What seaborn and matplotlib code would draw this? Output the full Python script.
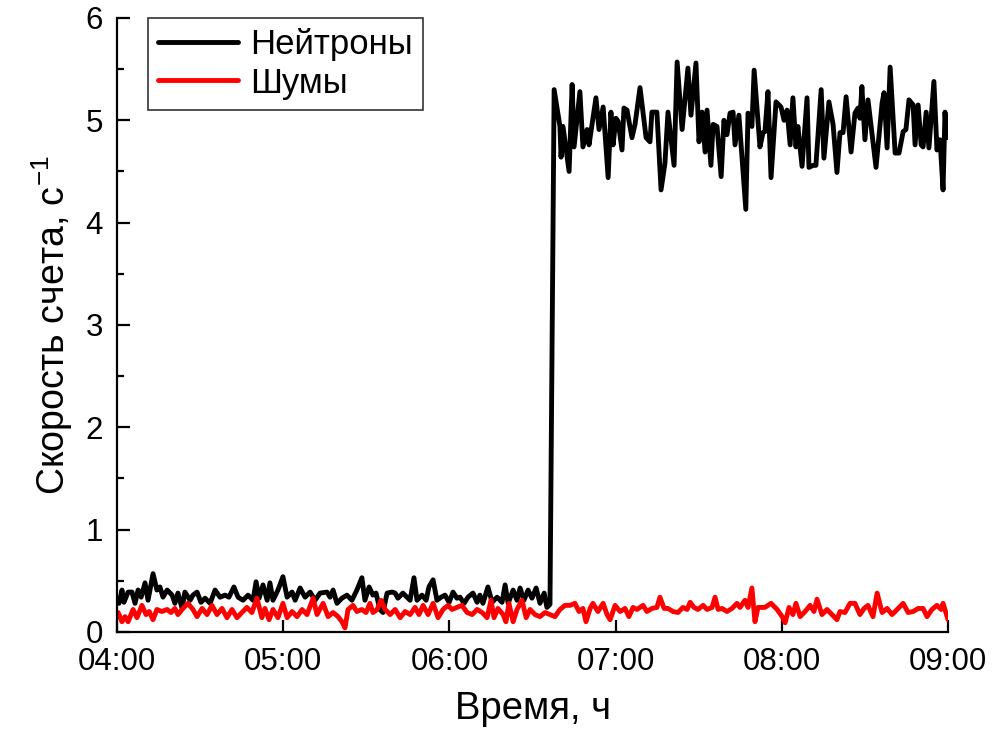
import matplotlib
matplotlib.use("Agg")
import matplotlib.pyplot as plt
import seaborn as sns
import pandas as pd
import numpy as np

# minutes after 04:00 and count rate (1/s)
neutron_min = [
    0.7, 1.8, 2.5, 4.0, 5.4, 6.5, 7.6, 8.7, 10.1, 11.2, 13.0, 14.4, 15.5, 16.6, 18.1,
    19.9, 20.9, 22.0, 23.5, 24.5, 26.4, 27.4, 28.9, 30.3, 31.8, 33.6, 35.4, 37.2, 39.0,
    40.4, 42.2, 43.7, 45.5, 47.3, 49.1, 50.2, 51.3, 52.7, 54.2, 55.2, 56.3, 58.1, 59.9,
    61.4, 63.2, 64.3, 66.1, 67.9, 69.7, 71.5, 73.3, 75.8, 76.9, 78.0, 79.4, 81.2, 83.0,
    84.8, 86.6, 88.4, 89.5, 91.0, 92.4, 93.5, 94.9, 96.0, 97.5, 99.3, 100.4, 101.4,
    103.2, 104.7, 105.8, 107.2, 108.3, 110.1, 111.6, 112.6, 114.1, 115.5, 117.0, 118.4,
    119.9, 121.3, 122.7, 123.8, 125.3, 126.7, 128.5, 130.0, 131.0, 132.1, 133.9, 135.4,
    137.2, 139.0, 140.1, 141.2, 143.0, 144.4, 145.5, 146.9, 148.4, 149.8, 151.3, 152.7,
    154.2, 155.2, 156.3,
    157.8, 159.9, 160.3, 161.0, 163.2, 164.3, 165.0, 167.1, 168.2, 169.7, 170.4, 172.9,
    174.0, 175.5, 177.3, 178.3, 179.1, 180.1, 180.9, 182.3, 183.0, 184.1, 185.9, 187.0,
    188.8, 191.0, 192.4, 193.1, 194.9, 196.4, 197.8, 198.9, 201.1, 202.2, 204.0, 206.1,
    207.2, 209.0, 210.1, 211.2, 212.3, 213.0, 214.4, 215.2, 216.6, 218.1, 219.1, 220.2,
    221.3, 222.4, 223.1, 224.5, 227.0, 227.8, 229.2, 230.0, 232.1, 233.2, 233.9, 235.0,
    236.1, 237.9, 239.7, 240.8, 241.9, 243.0, 244.0, 245.1, 245.8, 247.3, 249.1, 249.8,
    251.3, 252.3, 254.2, 255.2, 257.0, 258.5, 259.9, 261.0, 262.1, 263.2, 265.0, 266.4,
    267.5, 268.2, 268.9, 270.0, 271.1, 274.0, 276.2, 276.9, 278.0, 279.1, 280.9, 282.3,
    283.8, 284.8, 285.9, 287.4, 288.1, 289.2, 290.3, 291.0, 292.1, 293.1, 294.9, 296.0,
    297.1, 298.2, 298.9, 299.6,
]
neutron_rate = [
    0.28, 0.41, 0.29, 0.39, 0.39, 0.28, 0.41, 0.34, 0.48, 0.31, 0.57, 0.41, 0.44, 0.34, 0.41,
    0.36, 0.28, 0.38, 0.23, 0.39, 0.31, 0.36, 0.39, 0.29, 0.33, 0.28, 0.41, 0.34, 0.36,
    0.34, 0.44, 0.34, 0.31, 0.36, 0.31, 0.49, 0.33, 0.46, 0.31, 0.48, 0.31, 0.41, 0.54,
    0.34, 0.39, 0.31, 0.43, 0.34, 0.39, 0.31, 0.38, 0.39, 0.34, 0.41, 0.28, 0.33, 0.36,
    0.31, 0.41, 0.53, 0.31, 0.44, 0.36, 0.38, 0.22, 0.19, 0.38, 0.39, 0.38, 0.33,
    0.38, 0.34, 0.31, 0.53, 0.31, 0.36, 0.31, 0.44, 0.51, 0.31, 0.34, 0.36,
    0.29, 0.39, 0.33, 0.34, 0.28, 0.34, 0.38, 0.29, 0.36, 0.28, 0.44, 0.29,
    0.34, 0.29, 0.46, 0.28, 0.41, 0.31, 0.43, 0.31, 0.41, 0.33, 0.43, 0.28,
    0.38, 0.24, 0.27,
    5.30, 4.94, 4.64, 4.94, 4.50, 5.35, 4.74, 5.28, 4.74, 4.91, 4.76, 5.22,
    4.91, 5.13, 4.44, 5.08, 4.76, 5.02, 4.99, 4.71, 5.12, 5.10, 4.83, 4.96,
    5.32, 4.83, 4.79, 5.08, 5.08, 4.32, 4.58, 5.08, 4.56, 5.57, 4.91, 5.51,
    5.05, 5.56, 4.79, 5.08, 4.69, 5.10, 4.56, 4.96, 4.94, 4.45, 5.00, 4.86,
    5.07, 5.08, 4.76, 5.05, 4.13, 5.07, 4.94, 5.49, 4.74, 4.88, 4.89, 5.28,
    4.44, 5.18, 5.13, 5.00, 5.10, 4.76, 5.22, 4.74, 4.94, 4.55, 5.22, 4.54,
    4.56, 4.56, 5.30, 4.63, 5.18, 4.96, 4.49, 4.88, 4.88, 5.23, 4.69, 5.07,
    5.12, 5.02, 5.33, 4.81, 5.20, 4.54, 5.17, 5.27, 4.73, 5.52, 4.68, 4.68,
    4.89, 4.91, 5.20, 5.15, 4.76, 5.15, 4.76, 4.74, 5.08, 4.73, 5.38, 4.71,
    4.81, 4.32, 5.08, 4.83,
]

noise_min = [
    0.4, 1.8, 2.9, 4.0, 5.8, 7.2, 9.0, 10.5, 11.6, 13.0, 14.4, 16.2, 18.1, 19.5, 20.9,
    22.0, 23.5, 25.6, 27.4, 28.9, 30.7, 32.5, 34.3, 36.1, 37.9, 39.7, 41.5, 43.3, 45.1,
    46.9, 48.7, 50.5, 52.3, 53.4, 54.9, 56.3, 58.1, 59.9, 61.4, 63.2, 65.0, 66.8, 68.6,
    70.8, 72.2, 74.4, 76.2, 78.0, 79.8, 81.2, 82.3, 83.4, 85.2, 86.6, 88.4, 89.9, 91.3,
    92.4, 93.9, 95.3, 96.8, 98.6, 100.4, 102.2, 104.0, 105.8, 107.6, 109.0, 110.5,
    112.3, 114.1, 115.9, 117.7, 119.5, 120.9, 122.7, 124.5, 126.4, 128.2, 130.0, 131.8,
    133.6, 135.0, 136.1, 137.5, 139.4, 140.4, 141.5, 143.0, 144.4, 146.2, 147.7, 149.1,
    150.9, 152.7, 154.5, 156.3, 158.1, 159.9, 161.7, 163.5, 165.3, 166.8, 168.2, 169.3,
    170.8, 171.8, 173.6, 175.5, 176.9, 178.0, 179.8, 181.6, 183.4, 184.8, 186.3, 187.7,
    189.9, 191.3, 193.1, 194.9, 196.0, 197.5, 198.9, 200.7, 202.5, 204.3, 205.8, 206.9,
    208.3, 209.7, 211.6, 213.0, 214.8, 215.9, 217.0, 218.4, 220.2, 222.0, 223.8, 224.9,
    226.7, 227.8, 229.2, 230.3, 231.4, 233.9, 236.1, 238.3, 240.1, 241.2, 242.6, 244.0,
    245.1, 246.6, 248.4, 250.2, 251.6, 252.7, 254.5, 256.3, 258.1, 259.9, 261.0, 262.8,
    264.6, 266.4, 268.2, 269.7, 271.1, 272.9, 274.4, 276.2, 278.0, 279.8, 281.6, 283.8,
    285.6, 287.4, 289.2, 291.0, 292.4, 294.2, 296.0, 297.5, 298.2, 300.0,
]
noise_rate = [
    0.19, 0.10, 0.15, 0.10, 0.22, 0.14, 0.26, 0.17, 0.20, 0.12, 0.22, 0.20, 0.22, 0.19, 0.23,
    0.17, 0.22, 0.28, 0.22, 0.15, 0.23, 0.17, 0.26, 0.17, 0.23, 0.14, 0.22, 0.14, 0.19,
    0.24, 0.19, 0.33, 0.14, 0.23, 0.12, 0.22, 0.14, 0.28, 0.14, 0.20, 0.15, 0.22, 0.17,
    0.33, 0.17, 0.28, 0.15, 0.19, 0.15, 0.10, 0.04, 0.22, 0.26, 0.20, 0.22, 0.19, 0.28,
    0.19, 0.22, 0.31, 0.22, 0.17, 0.22, 0.14, 0.20, 0.17, 0.24, 0.17, 0.26,
    0.17, 0.28, 0.14, 0.22, 0.26, 0.22, 0.24, 0.26, 0.19, 0.17, 0.22, 0.19,
    0.14, 0.31, 0.14, 0.23, 0.17, 0.10, 0.28, 0.10, 0.22, 0.31, 0.14, 0.22,
    0.17, 0.15, 0.19, 0.17, 0.15, 0.22, 0.26, 0.26, 0.28, 0.20, 0.23, 0.10,
    0.23, 0.28, 0.20, 0.28, 0.17, 0.12, 0.26, 0.20, 0.23, 0.15, 0.24, 0.22,
    0.26, 0.20, 0.23, 0.24, 0.34, 0.23, 0.23, 0.20, 0.19, 0.24, 0.22, 0.29,
    0.24, 0.22, 0.26, 0.22, 0.24, 0.34, 0.22, 0.23, 0.20, 0.23, 0.28, 0.24,
    0.31, 0.24, 0.43, 0.10, 0.24, 0.24, 0.28, 0.22, 0.15, 0.09, 0.24, 0.17,
    0.28, 0.15, 0.20, 0.26, 0.20, 0.32, 0.17, 0.22, 0.17, 0.12, 0.20, 0.19,
    0.28, 0.28, 0.17, 0.23, 0.26, 0.15, 0.38, 0.19, 0.23, 0.17, 0.22, 0.28,
    0.19, 0.20, 0.23, 0.23, 0.15, 0.22, 0.26, 0.22, 0.28, 0.12,
]

hour_ticks = [4, 5, 6, 7, 8, 9]
hour_labels = ["04:00", "05:00", "06:00", "07:00", "08:00", "09:00"]

df = pd.concat([
    pd.DataFrame({"t": 4 + np.array(neutron_min) / 60, "rate": neutron_rate, "series": "Нейтроны"}),
    pd.DataFrame({"t": 4 + np.array(noise_min) / 60, "rate": noise_rate, "series": "Шумы"}),
])

sns.set_style("ticks")
plt.rcParams["font.family"] = ["Liberation Sans", "DejaVu Sans"]
plt.rcParams["mathtext.fontset"] = "custom"
plt.rcParams["mathtext.rm"] = "Liberation Sans"
plt.rcParams["mathtext.it"] = "Liberation Sans"
plt.rcParams["text.color"] = "black"
plt.rcParams["axes.labelcolor"] = "black"

fig = plt.figure(figsize=(9.95, 7.37), dpi=100)
ax = fig.add_axes([0.1176, 0.1425, 0.8352, 0.8331])

sns.lineplot(data=df, x="t", y="rate", hue="series", palette={"Нейтроны": "black", "Шумы": "#ff0000"},
             linewidth=3.5, estimator=None, sort=False, ax=ax)

ax.set_xlim(4, 9)
ax.set_ylim(0, 6)
ax.set_xticks(hour_ticks)
ax.set_xticklabels(hour_labels)
ax.set_yticks(range(0, 7))
ax.set_yticks(np.arange(0.5, 6, 1.0), minor=True)
ax.tick_params(axis="both", which="major", direction="in", length=9, width=1.6, labelsize=22.5,
               colors="black")
ax.tick_params(axis="y", which="minor", direction="in", length=5, width=1.6, colors="black")
ax.tick_params(axis="x", pad=11)
ax.tick_params(axis="y", pad=10)
for s in ["left", "bottom"]:
    ax.spines[s].set_linewidth(1.6)
    ax.spines[s].set_color("black")
sns.despine(ax=ax)

ax.set_xlabel("Время, ч", fontsize=27.5, labelpad=10)
ax.set_ylabel("Скорость счета, с$^{-1}$", fontsize=27, labelpad=8)

leg = ax.legend(loc="upper left", bbox_to_anchor=(0.037, 1.0), borderaxespad=0, fontsize=25,
                frameon=True, fancybox=False, edgecolor="black", handlelength=2.3,
                borderpad=0.3, labelspacing=0.15, handletextpad=0.35)
leg.get_frame().set_linewidth(1.2)
for line in leg.get_lines():
    line.set_linewidth(3.5)

fig.savefig("out.png", dpi=100)
